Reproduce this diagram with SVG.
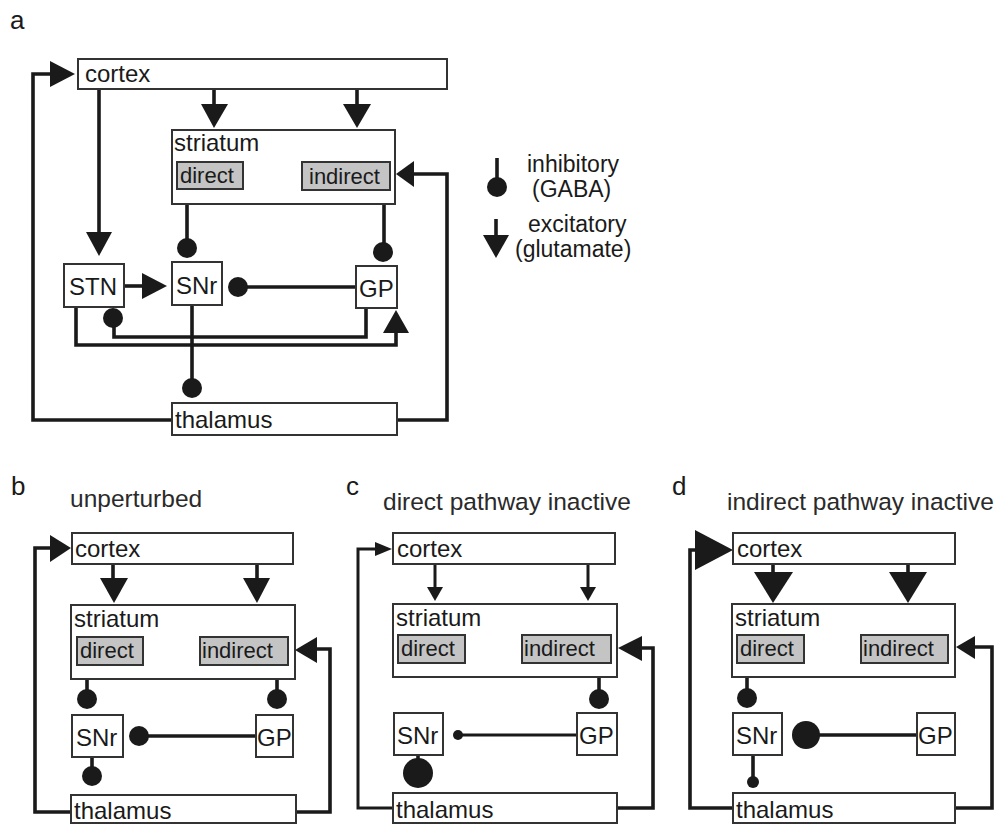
<svg xmlns="http://www.w3.org/2000/svg" width="1002" height="827" viewBox="0 0 1002 827">
<style>
text{font-family:"Liberation Sans",Arial,sans-serif;fill:#1a1a1a}
.lbl{font-size:26px}
.ttl{font-size:24.5px;fill:#2a2a2a}
.nt{font-size:24px}
.lg{font-size:23px}
.st{font-size:22px}
.box{fill:#fff;stroke:#333;stroke-width:2}
.sub{fill:#c4c4c4;stroke:#333;stroke-width:2}
.ln{fill:none;stroke:#1a1a1a;stroke-width:3.6;stroke-linejoin:miter}
.thin{stroke-width:3}
.hd{fill:#1a1a1a}
</style>
<rect width="1002" height="827" fill="#fff"/>

<!-- Panel a -->
<text class="lbl" x="10" y="29">a</text>
<g id="connectors-a">
<path class="ln" d="M172,420 H33 V74 H52"/><polygon class="hd" points="50,61 75,74 50,87"/>
<path class="ln" d="M99,89 V234"/><polygon class="hd" points="86,232 112,232 99,256"/>
<path class="ln" d="M214,89 V106"/><polygon class="hd" points="201,104 228,104 214,128"/>
<path class="ln" d="M357,89 V106"/><polygon class="hd" points="343,104 371,104 357,128"/>
<path class="ln" d="M302,165 H262"/><circle class="hd" cx="259" cy="165" r="10"/>
<path class="ln" d="M243,189 H280"/><circle class="hd" cx="284" cy="189" r="10"/>
<path class="ln" d="M187,189 V244"/><circle class="hd" cx="187" cy="248" r="10"/>
<path class="ln" d="M384,190 V248"/><circle class="hd" cx="383" cy="252" r="10"/>
<path class="ln" d="M124,286 H144"/><polygon class="hd" points="142,273 167,286 142,299"/>
<path class="ln" d="M356,287 H242"/><circle class="hd" cx="238" cy="287" r="10"/>
<path class="ln" d="M76,307 V345 H396 V331"/><polygon class="hd" points="383,333 409,333 396,310"/>
<path class="ln" d="M366,308 V337 H114 V322"/><circle class="hd" cx="113" cy="318" r="10"/>
<path class="ln" d="M192,305 V384"/><circle class="hd" cx="192" cy="388" r="10"/>
<path class="ln" d="M397,420 H447 V174 H412"/><polygon class="hd" points="414,161 396,174 414,187"/>
</g>
<g id="a-cortex"><rect class="box" x="78" y="59" width="369" height="30"/><text class="nt" x="85" y="82">cortex</text></g>
<g id="a-striatum"><rect class="box" x="172" y="130" width="223" height="74"/><text class="nt" x="174" y="151">striatum</text></g>
<g id="a-direct"><rect class="sub" x="177" y="162" width="66" height="27"/><text class="st" x="180" y="183">direct</text></g>
<g id="a-indirect"><rect class="sub" x="302" y="162" width="88" height="28"/><text class="st" x="309" y="184">indirect</text></g>
<g id="a-stn"><rect class="box" x="64" y="264" width="60" height="43"/><text class="nt" x="69" y="295">STN</text></g>
<g id="a-snr"><rect class="box" x="172" y="262" width="50" height="43"/><text class="nt" x="176" y="294">SNr</text></g>
<g id="a-gp"><rect class="box" x="356" y="266" width="41" height="42"/><text class="nt" x="359" y="297">GP</text></g>
<g id="a-thalamus"><rect class="box" x="172" y="403" width="225" height="32"/><text class="nt" x="175" y="428">thalamus</text></g>

<!-- Legend -->
<g id="legend">
<path class="ln" d="M497,158 V182"/><circle class="hd" cx="497" cy="187" r="10"/>
<text class="lg" x="527" y="172">inhibitory</text>
<text class="lg" x="532" y="197">(GABA)</text>
<path class="ln" d="M496,219 V237"/><polygon class="hd" points="483,235 509,235 496,258"/>
<text class="lg" x="528" y="232">excitatory</text>
<text class="lg" x="515" y="257">(glutamate)</text>
</g>

<!-- Panel b -->
<text class="lbl" x="11" y="495">b</text>
<text class="ttl" x="70" y="507">unperturbed</text>
<g id="connectors-b">
<path class="ln" d="M71,812 H35 V548 H52"/><polygon class="hd" points="50,535 71,548 50,562"/>
<path class="ln" d="M113,564 V580"/><polygon class="hd" points="100,578 128,578 114,603"/>
<path class="ln" d="M257,564 V580"/><polygon class="hd" points="243,578 270,578 257,603"/>
<path class="ln" d="M87,665 V695"/><circle class="hd" cx="87" cy="699" r="10"/>
<path class="ln" d="M277,665 V695"/><circle class="hd" cx="277" cy="699" r="10"/>
<path class="ln" d="M256,736 H143"/><circle class="hd" cx="139" cy="736" r="10"/>
<path class="ln" d="M92,757 V772"/><circle class="hd" cx="92" cy="776" r="10"/>
<path class="ln" d="M296,812 H330 V649 H316"/><polygon class="hd" points="317,637 295,650 317,663"/>
</g>
<g id="b-cortex"><rect class="box" x="72" y="533" width="221" height="31"/><text class="nt" x="75" y="557">cortex</text></g>
<g id="b-striatum"><rect class="box" x="71" y="605" width="224" height="74"/><text class="nt" x="74" y="627">striatum</text></g>
<g id="b-direct"><rect class="sub" x="77" y="637" width="66" height="28"/><text class="st" x="80" y="658">direct</text></g>
<g id="b-indirect"><rect class="sub" x="200" y="637" width="88" height="28"/><text class="st" x="202" y="658">indirect</text></g>
<g id="b-snr"><rect class="box" x="72" y="715" width="51" height="42"/><text class="nt" x="76" y="746">SNr</text></g>
<g id="b-gp"><rect class="box" x="256" y="715" width="37" height="42"/><text class="nt" x="257" y="746">GP</text></g>
<g id="b-thalamus"><rect class="box" x="71" y="795" width="225" height="28"/><text class="nt" x="74" y="819">thalamus</text></g>

<!-- Panel c -->
<text class="lbl" x="346" y="495">c</text>
<text class="ttl" x="383" y="510">direct pathway inactive</text>
<g id="connectors-c">
<path class="ln thin" d="M393,808 H358 V549 H377"/><polygon class="hd" points="375,542 392,549 375,556"/>
<path class="ln thin" d="M435,564 V589"/><polygon class="hd" points="427,587 443,587 435,601"/>
<path class="ln thin" d="M588,564 V589"/><polygon class="hd" points="580,587 596,587 588,601"/>
<path class="ln" d="M599,663 V695"/><circle class="hd" cx="599" cy="699" r="10"/>
<path class="ln thin" d="M577,735 H462"/><circle class="hd" cx="458" cy="735" r="5"/>
<path class="ln" d="M418,755 V762"/><circle class="hd" cx="418" cy="773" r="15"/>
<path class="ln" d="M617,808 H653 V648 H640"/><polygon class="hd" points="642,636 618,648 642,661"/>
</g>
<g id="c-cortex"><rect class="box" x="393" y="533" width="222" height="31"/><text class="nt" x="397" y="557">cortex</text></g>
<g id="c-striatum"><rect class="box" x="393" y="604" width="224" height="73"/><text class="nt" x="396" y="626">striatum</text></g>
<g id="c-direct"><rect class="sub" x="398" y="635" width="67" height="28"/><text class="st" x="401" y="656">direct</text></g>
<g id="c-indirect"><rect class="sub" x="522" y="635" width="89" height="28"/><text class="st" x="524" y="656">indirect</text></g>
<g id="c-snr"><rect class="box" x="394" y="713" width="49" height="42"/><text class="nt" x="397" y="744">SNr</text></g>
<g id="c-gp"><rect class="box" x="577" y="713" width="40" height="42"/><text class="nt" x="579" y="744">GP</text></g>
<g id="c-thalamus"><rect class="box" x="393" y="793" width="224" height="30"/><text class="nt" x="396" y="818">thalamus</text></g>

<!-- Panel d -->
<text class="lbl" x="672" y="495">d</text>
<text class="ttl" x="727" y="510">indirect pathway inactive</text>
<g id="connectors-d">
<path class="ln" d="M733,808 H690 V550 H697"/><polygon class="hd" points="695,530 733,550 695,570"/>
<path class="ln" d="M773,564 V574"/><polygon class="hd" points="754,572 793,572 773,603"/>
<path class="ln" d="M908,564 V574"/><polygon class="hd" points="889,572 927,572 908,603"/>
<path class="ln" d="M747,663 V694"/><circle class="hd" cx="747" cy="698" r="10"/>
<path class="ln" d="M917,735 H816"/><circle class="hd" cx="806" cy="735" r="14"/>
<path class="ln" d="M753,755 V778"/><circle class="hd" cx="753" cy="782" r="6"/>
<path class="ln" d="M955,808 H992 V647 H973"/><polygon class="hd" points="975,636 956,647 975,659"/>
</g>
<g id="d-cortex"><rect class="box" x="733" y="533" width="222" height="31"/><text class="nt" x="737" y="557">cortex</text></g>
<g id="d-striatum"><rect class="box" x="732" y="604" width="223" height="73"/><text class="nt" x="735" y="626">striatum</text></g>
<g id="d-direct"><rect class="sub" x="737" y="635" width="67" height="28"/><text class="st" x="740" y="656">direct</text></g>
<g id="d-indirect"><rect class="sub" x="861" y="635" width="87" height="28"/><text class="st" x="863" y="656">indirect</text></g>
<g id="d-snr"><rect class="box" x="733" y="713" width="49" height="42"/><text class="nt" x="736" y="744">SNr</text></g>
<g id="d-gp"><rect class="box" x="917" y="713" width="38" height="42"/><text class="nt" x="918" y="744">GP</text></g>
<g id="d-thalamus"><rect class="box" x="733" y="793" width="222" height="30"/><text class="nt" x="736" y="818">thalamus</text></g>
</svg>
